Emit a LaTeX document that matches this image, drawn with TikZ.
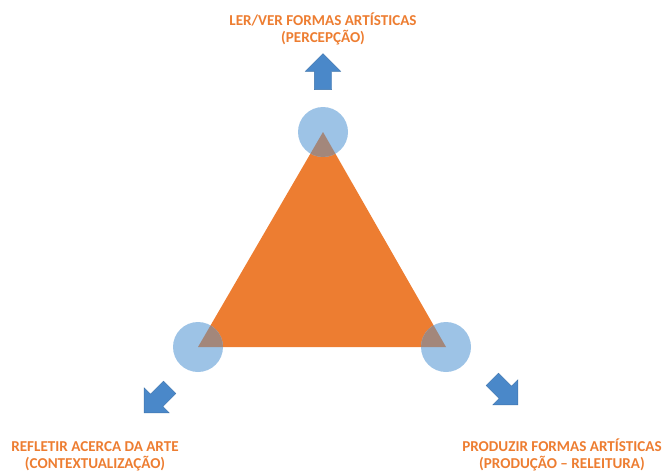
\documentclass[tikz,border=0pt]{standalone}
\usepackage{fontspec}
\setmainfont{Carlito}
\usetikzlibrary{shapes.arrows}
\definecolor{laranja}{HTML}{ED7D31}
\definecolor{azulclaro}{HTML}{9DC3E6}
\definecolor{azul}{HTML}{4A88C9}
\definecolor{mistura}{HTML}{A3877B}
\begin{document}
\begin{tikzpicture}[x=1pt,y=-1pt,
   rotulo/.style={text=laranja,font=\bfseries\fontsize{15.1}{17}\selectfont,align=center},
   seta/.style={single arrow,fill=azul,draw=azul!85!black,line width=0.4pt,
     minimum height=36pt,inner xsep=0pt,inner ysep=8.5pt,
     single arrow head extend=9pt,single arrow tip angle=90}]
   \useasboundingbox (0,0) rectangle (665,471);
   \coordinate (topo) at (323,132);
   \coordinate (esq) at (198,347);
   \coordinate (dir) at (446,347);
   % triangulo e circulos
   \fill[laranja] (topo) -- (esq) -- (dir) -- cycle;
   \foreach \v in {topo,esq,dir}
     \fill[azulclaro] (\v) circle (25);
   \begin{scope}
     \clip (topo) -- (esq) -- (dir) -- cycle;
     \foreach \v in {topo,esq,dir}
       \fill[mistura] (\v) circle (25);
   \end{scope}
   % setas
   \node[seta,rotate=90] (setatopo) at (323,76) {};
   \node[seta,rotate=225] (setaesq) at (160,397) {};
   \node[seta,rotate=-45] (setadir) at (502,389) {};
   % textos
   \node[rotulo] (perc) at (323,29) {LER/VER FORMAS ARTÍSTICAS\\(PERCEPÇÃO)};
   \node[rotulo] (cont) at (95,456) {REFLETIR ACERCA DA ARTE\\(CONTEXTUALIZAÇÃO)};
   \node[rotulo] (prod) at (562,455) {PRODUZIR FORMAS ARTÍSTICAS\\(PRODUÇÃO – RELEITURA)};
\end{tikzpicture}
\end{document}
